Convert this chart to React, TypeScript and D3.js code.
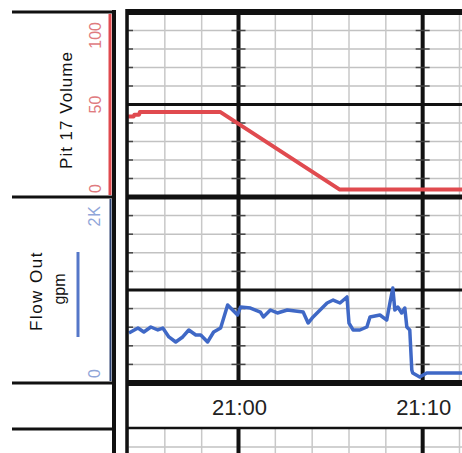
import React from 'react';
import * as d3 from 'd3';

const W = 462;
const H = 453;

// minutes past 20:00
const pitMinutes = [54.0, 54.3, 54.35, 54.6, 54.65, 59.0, 65.5, 72.2];
const pitVolume = [43.5, 43.5, 44.5, 44.5, 46, 46, 4, 4];

const flowMinutes = [
  54.05, 54.54, 54.86, 55.24, 55.62, 55.89, 56.22, 56.59, 56.97, 57.3, 57.68, 57.95, 58.32,
  58.65, 59.03, 59.41, 59.68, 59.95, 60.11, 60.65, 61.19, 61.35, 61.73, 62.11, 62.65, 63.51,
  63.78, 64.05, 64.43, 64.81, 65.14, 65.51, 65.89, 66.0, 66.22, 66.59, 66.97, 67.14, 67.68,
  68.05, 68.22, 68.38, 68.49, 68.65, 68.86, 69.03, 69.14, 69.3, 69.41, 69.46, 69.84, 70.22, 72.2,
];
const flowGpm = [
  538, 591, 548, 602, 570, 591, 495, 441, 495, 570, 516, 516, 441, 548, 591, 839, 785, 731, 817,
  806, 763, 710, 785, 753, 785, 763, 645, 710, 785, 860, 892, 860, 925, 645, 570, 570, 602, 710,
  731, 677, 860, 1021, 785, 817, 753, 806, 602, 570, 140, 108, 65, 108, 108,
];

const pitTicks = ['0', '50', '100'];
const flowTicks = ['0', '2K'];

const FONT = '"Liberation Sans", Arial, sans-serif';
const PLOT_LEFT = 127;

const toDate = (m: number) => new Date(2000, 0, 1, 20, 0, 0, Math.round(m * 60000));

const App = () => {
  const x = d3
    .scaleTime()
    .domain([toDate(54), toDate(72)])
    .range([128, 459.5]);

  const yPit = d3.scaleLinear().domain([0, 100]).range([197, 12]);
  const yFlow = d3.scaleLinear().domain([0, 2000]).range([383, 197]);

  const minorX = x.ticks(d3.timeMinute.every(2) as d3.TimeInterval);
  const majorX = x.ticks(d3.timeMinute.every(10) as d3.TimeInterval);
  const fmt = d3.timeFormat('%H:%M');

  const pitLine = d3
    .line<number>()
    .x((d, i) => x(toDate(pitMinutes[i])))
    .y((d) => yPit(d));
  const flowLine = d3
    .line<number>()
    .x((d, i) => x(toDate(flowMinutes[i])))
    .y((d) => yFlow(d));

  const panel = (y: d3.ScaleLinear<number, number>, step: number, key: string) => {
    const [lo, hi] = y.domain();
    const minorY = d3.range(lo + step, hi, step).filter((v) => Math.abs(v - (lo + hi) / 2) > 1e-6);
    return (
      <g key={key}>
        {minorY.map((v) => (
          <line key={v} x1={PLOT_LEFT} x2={W} y1={y(v)} y2={y(v)} stroke="#c2c2c2" strokeWidth={1.5} />
        ))}
        {minorX.map((t, i) => (
          <line key={i} x1={x(t)} x2={x(t)} y1={y(hi)} y2={y(lo)} stroke="#c8c8c8" strokeWidth={1.5} />
        ))}
        <line x1={PLOT_LEFT} x2={W} y1={y((lo + hi) / 2)} y2={y((lo + hi) / 2)} stroke="#111" strokeWidth={3} />
        {majorX.map((t, i) => (
          <line key={i} x1={x(t)} x2={x(t)} y1={y(hi)} y2={y(lo)} stroke="#111" strokeWidth={4} />
        ))}
        {majorX.map((t) =>
          minorY.map((v) => (
            <line key={`${+t}-${v}`} x1={x(t) - 7} x2={x(t) + 7} y1={y(v)} y2={y(v)} stroke="#444" strokeWidth={1.5} />
          ))
        )}
        {minorY.map((v) => (
          <line key={`l${v}`} x1={PLOT_LEFT} x2={PLOT_LEFT + 6} y1={y(v)} y2={y(v)} stroke="#444" strokeWidth={1.5} />
        ))}
      </g>
    );
  };

  return (
    <svg
      width={W}
      height={H}
      viewBox={`0 0 ${W} ${H}`}
      style={{ position: 'absolute', left: 0, top: 0, background: '#fff' }}
      fontFamily={FONT}
    >
      <defs>
        <clipPath id="plot-clip">
          <rect x={PLOT_LEFT} y={12} width={W - PLOT_LEFT} height={371} />
        </clipPath>
      </defs>

      {panel(yPit, 10, 'pit')}
      {panel(yFlow, 200, 'flow')}

      {/* lower partial panel */}
      <g>
        <line x1={PLOT_LEFT} x2={W} y1={447} y2={447} stroke="#c2c2c2" strokeWidth={1.5} />
        {minorX.map((t, i) => (
          <line key={i} x1={x(t)} x2={x(t)} y1={429} y2={H} stroke="#c8c8c8" strokeWidth={1.5} />
        ))}
        {majorX.map((t, i) => (
          <line key={i} x1={x(t)} x2={x(t)} y1={429} y2={H} stroke="#111" strokeWidth={4} />
        ))}
      </g>

      <g clipPath="url(#plot-clip)">
        <path d={pitLine(pitVolume) as string} fill="none" stroke="#e04a4f" strokeWidth={4} strokeLinejoin="round" />
        <path d={flowLine(flowGpm) as string} fill="none" stroke="#3f68c6" strokeWidth={3.5} strokeLinejoin="round" />
      </g>

      {/* panel borders */}
      <line x1={PLOT_LEFT} x2={W} y1={12} y2={12} stroke="#111" strokeWidth={6} />
      <line x1={PLOT_LEFT} x2={W} y1={197} y2={197} stroke="#111" strokeWidth={5} />
      <line x1={PLOT_LEFT} x2={W} y1={383} y2={383} stroke="#111" strokeWidth={6} />
      <line x1={PLOT_LEFT} x2={W} y1={428} y2={428} stroke="#111" strokeWidth={2.5} />
      <line x1={PLOT_LEFT} x2={PLOT_LEFT} y1={9} y2={H} stroke="#111" strokeWidth={3.5} />

      {/* time axis */}
      {majorX.map((t, i) => (
        <text key={i} x={x(t) + 1} y={415} textAnchor="middle" fontSize={22} fill="#222">
          {fmt(t)}
        </text>
      ))}

      {/* left label column */}
      {[12, 197, 383, 429].map((y) => (
        <line key={y} x1={12} x2={115} y1={y} y2={y} stroke="#111" strokeWidth={3} />
      ))}
      <line x1={114} x2={114} y1={10} y2={H} stroke="#111" strokeWidth={4} />
      <line x1={110} x2={110} y1={14} y2={195} stroke="#e04a4f" strokeWidth={3} />
      <line x1={110.5} x2={110.5} y1={199} y2={381} stroke="#2a3f6e" strokeWidth={2} />

      <text transform="translate(72,110) rotate(-90)" textAnchor="middle" fontSize={17} letterSpacing={1} fill="#111">
        Pit 17 Volume
      </text>
      {pitTicks.map((t, i) => (
        <text
          key={t}
          transform={`translate(101,${yPit(+t) + (i === 0 ? -4 : i === 2 ? 10 : 0)}) rotate(-90)`}
          textAnchor={i === 0 ? 'start' : i === 2 ? 'end' : 'middle'}
          fontSize={16}
          fill="#e07b7f"
        >
          {t}
        </text>
      ))}

      <text transform="translate(42,291) rotate(-90)" textAnchor="middle" fontSize={17} letterSpacing={1.5} fill="#111">
        Flow Out
      </text>
      <text transform="translate(65,289) rotate(-90)" textAnchor="middle" fontSize={16} fill="#111">
        gpm
      </text>
      <line x1={78} x2={78} y1={252} y2={337} stroke="#5577c8" strokeWidth={3} />
      {flowTicks.map((t, i) => (
        <text
          key={t}
          transform={`translate(100,${i === 0 ? yFlow(0) - 5 : yFlow(2000) + 8}) rotate(-90)`}
          textAnchor={i === 0 ? 'start' : 'end'}
          fontSize={16}
          letterSpacing={1}
          fill="#8fa6d9"
        >
          {t}
        </text>
      ))}
    </svg>
  );
};

export default App;
